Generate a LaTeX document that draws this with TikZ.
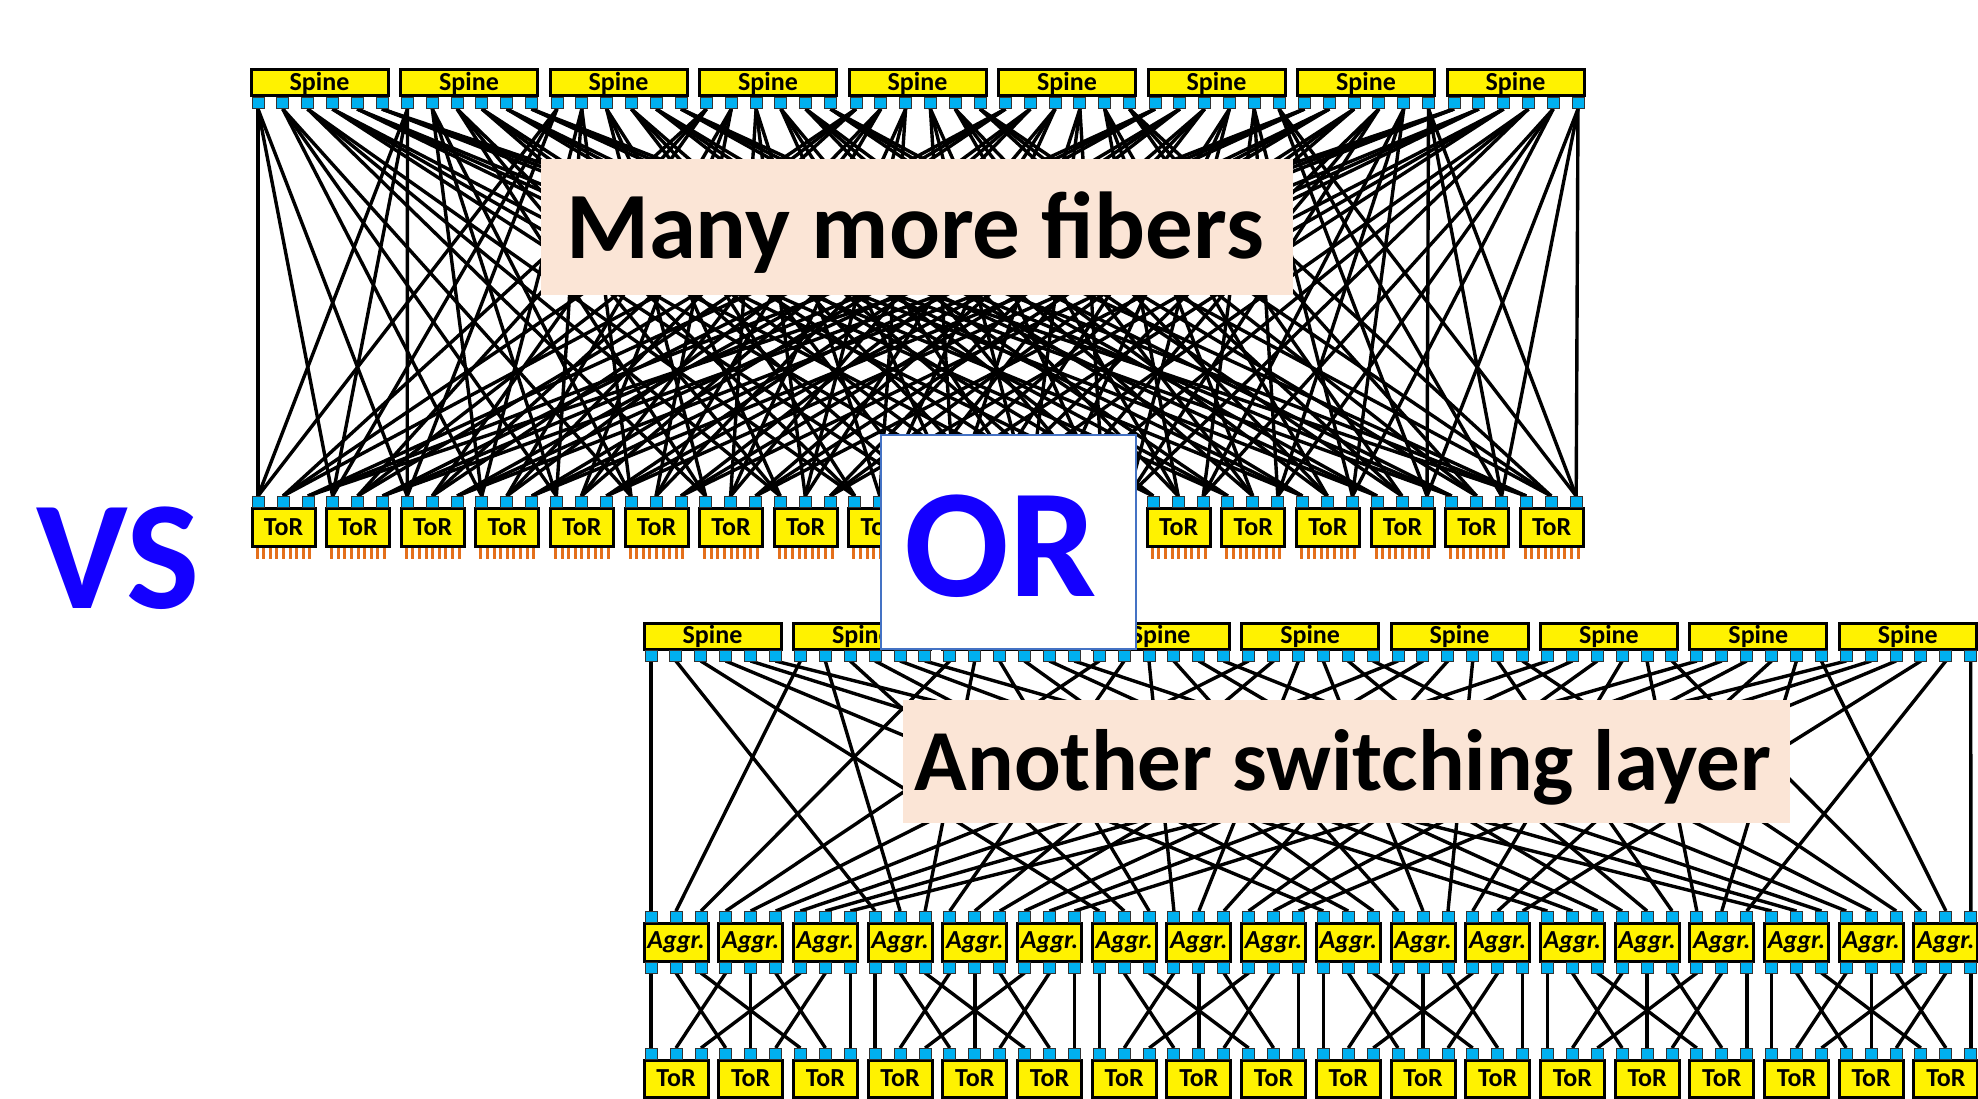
\documentclass[tikz,border=0pt]{standalone}
\usepackage{fontspec}
\setmainfont{Carlito}
\definecolor{portblue}{RGB}{0,176,240}
\definecolor{pinorange}{RGB}{228,112,28}
\definecolor{peach}{RGB}{251,229,214}
\definecolor{orframe}{RGB}{68,114,196}
\definecolor{vsblue}{RGB}{20,0,255}
\pgfdeclarelayer{bg}
\pgfsetlayers{bg,main}
\begin{document}
\begin{tikzpicture}[x=1pt,y=-1pt,
  port/.style={rectangle,fill=portblue,draw=black!80,line width=1pt,minimum width=12pt,minimum height=11pt,inner sep=0pt,outer sep=0pt},
  swbox/.style={rectangle,fill=yellow,draw=black,line width=3pt,inner sep=0pt,outer sep=0pt},
  spinebox/.style={swbox,minimum width=137pt,minimum height=26pt,font=\fontsize{26}{26}\selectfont\bfseries},
  torbox/.style={swbox,minimum width=63pt,minimum height=38pt,font=\fontsize{26}{26}\selectfont\bfseries},
  aggrbox/.style={swbox,minimum width=64pt,minimum height=38pt,font=\fontsize{26}{26}\selectfont\bfseries\itshape},
  fiber/.style={line width=3.4pt,black},
  callout/.style={rectangle,fill=peach,inner sep=0pt,outer sep=0pt},
  bigtext/.style={anchor=base,inner sep=0pt,font=\bfseries}]
\useasboundingbox (0,0) rectangle (1978,1099);

% ---------------- top: spine / ToR full mesh ----------------
\foreach \s in {0,...,8}{
  \pgfmathsetmacro\xs{251+149.5*\s}
  \node[spinebox] (tspine\s) at (\xs+68.5,83) {Spine};
  \foreach \p in {0,...,5}{
    \node[port] (tsp-\s-\p) at (\xs+7+24.8*\p,103.5) {};
  }
}
\foreach \t in {0,...,17}{
  \pgfmathsetmacro\xt{252+74.6*\t}
  \node[torbox] (ttor\t) at (\xt+31.5,527) {ToR};
  \foreach \q in {0,1,2}{
    \node[port] (ttp-\t-\q) at (\xt+6+25*\q,501.5) {};
  }
  \foreach \k in {0,...,8}{
    \fill[pinorange] (\xt+3.5+6.6*\k,548) rectangle ++(3,11);
  }
}
\begin{pgfonlayer}{bg}
\foreach \s in {0,...,8}{
  \pgfmathtruncatemacro\q{int(\s/3)}
  \foreach \p in {0,...,5}{
    \foreach \k in {0,1,2}{
      \pgfmathtruncatemacro\t{3*\p+\k}
      \draw[fiber] (tsp-\s-\p.south) -- (ttp-\t-\q.north);
    }
  }
}
\end{pgfonlayer}
\node[callout,minimum width=752pt,minimum height=136pt] (many) at (917,227) {};
\node[bigtext,font=\fontsize{95}{95}\selectfont\bfseries] (manytxt) at (915,259) {Many more fibers};

% ---------------- bottom: spine / aggr / ToR ----------------
\foreach \s in {0,...,8}{
  \pgfmathsetmacro\xs{644+149.4*\s}
  \node[spinebox] (bspine\s) at (\xs+68.5,636) {Spine};
  \foreach \p in {0,...,5}{
    \node[port] (bsp-\s-\p) at (\xs+7+24.9*\p,655.5) {};
  }
}
\foreach \i in {0,...,17}{
  \pgfmathsetmacro\xa{644+74.7*\i}
  \node[aggrbox] (aggr\i) at (\xa+32,942) {Aggr.};
  \node[torbox,minimum width=64pt,minimum height=37pt] (btor\i) at (\xa+32,1078.5) {ToR};
  \foreach \q in {0,1,2}{
    \node[port] (aup-\i-\q) at (\xa+7+25*\q,916.5) {};
    \node[port] (adn-\i-\q) at (\xa+7+25*\q,967.5) {};
    \node[port] (btp-\i-\q) at (\xa+7+25*\q,1053.5) {};
  }
}
\begin{pgfonlayer}{bg}
\foreach \s in {0,...,8}{
  \pgfmathtruncatemacro\g{int(\s/3)}
  \pgfmathtruncatemacro\u{mod(\s,3)}
  \foreach \p in {0,...,5}{
    \pgfmathtruncatemacro\a{3*\p+\g}
    \draw[fiber] (bsp-\s-\p.south) -- (aup-\a-\u.north);
  }
}
\foreach \g in {0,...,5}{
  \foreach \i in {0,1,2}{
    \foreach \j in {0,1,2}{
      \pgfmathtruncatemacro\a{3*\g+\i}
      \pgfmathtruncatemacro\b{3*\g+\j}
      \draw[fiber] (adn-\a-\j.south) -- (btp-\b-\i.north);
    }
  }
}
\end{pgfonlayer}
\node[callout,minimum width=887pt,minimum height=123pt] (another) at (1346.5,761.5) {};
\node[bigtext,font=\fontsize{87}{87}\selectfont\bfseries] (anothertxt) at (1343,790) {Another switching layer};

% ---------------- VS / OR ----------------
\node[bigtext,text=vsblue,font=\fontsize{155}{155}\selectfont\bfseries] (vs) at (118,608) {VS};
\node[rectangle,fill=white,draw=orframe,line width=1.5pt,minimum width=255pt,minimum height=214pt,inner sep=0pt] (orbox) at (1008.5,542) {};
\node[bigtext,text=vsblue,font=\fontsize{155}{155}\selectfont\bfseries] (ortxt) at (1001,596) {OR};
\end{tikzpicture}
\end{document}
